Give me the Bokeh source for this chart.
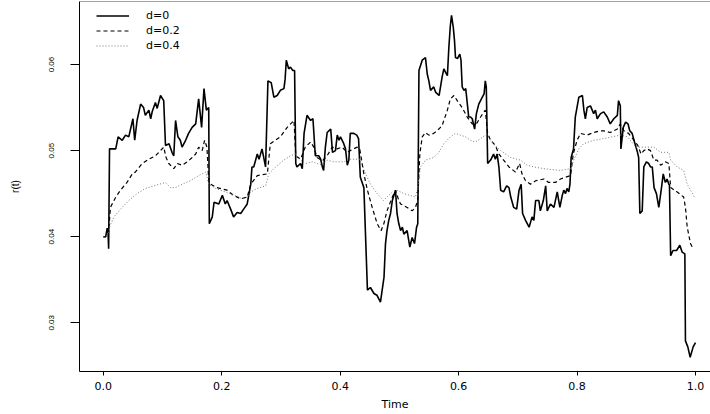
from bokeh.plotting import figure
from bokeh.models import Range1d, FixedTicker, NumeralTickFormatter, Span, Legend, LegendItem
from bokeh.embed import file_html
from bokeh.resources import INLINE

# Short-rate path r(t) for three values of the memory parameter d

# d = 0
t0 = [0.000, 0.004, 0.0066, 0.008, 0.009, 0.0105, 0.021, 0.025, 0.032, 0.0375,
      0.043, 0.050, 0.053, 0.057, 0.063, 0.068, 0.071, 0.077, 0.080, 0.0825,
      0.088, 0.091, 0.0966, 0.102, 0.105, 0.111, 0.116, 0.119, 0.122, 0.126,
      0.130, 0.133, 0.139, 0.144, 0.150, 0.156, 0.161, 0.166, 0.170, 0.174,
      0.178, 0.179, 0.184, 0.187, 0.195, 0.201, 0.206, 0.209, 0.215, 0.220,
      0.226, 0.232, 0.237, 0.243, 0.249, 0.251, 0.254, 0.260, 0.263, 0.268,
      0.274, 0.278, 0.2835, 0.288, 0.2936, 0.299, 0.305, 0.307, 0.309, 0.313,
      0.316, 0.320, 0.323, 0.325, 0.327, 0.333, 0.336, 0.339, 0.344, 0.350,
      0.354, 0.358, 0.364, 0.367, 0.370, 0.372, 0.375, 0.378, 0.384, 0.387,
      0.392, 0.395, 0.398, 0.4005, 0.406, 0.409, 0.412, 0.4146, 0.417, 0.423,
      0.428, 0.431, 0.434, 0.440, 0.446, 0.451, 0.457, 0.462, 0.468, 0.474,
      0.4765, 0.479, 0.482, 0.485, 0.488, 0.4934, 0.496, 0.499, 0.502, 0.505,
      0.5075, 0.513, 0.5176, 0.5215, 0.5255, 0.529, 0.531, 0.533, 0.5385, 0.544,
      0.547, 0.5497, 0.5525, 0.558, 0.561, 0.567, 0.572, 0.575, 0.578, 0.581,
      0.5835, 0.586, 0.588, 0.591, 0.593, 0.5947, 0.598, 0.602, 0.604, 0.606,
      0.609, 0.612, 0.617, 0.620, 0.623, 0.627, 0.630, 0.634, 0.640, 0.643,
      0.645, 0.6467, 0.649, 0.654, 0.659, 0.662, 0.665, 0.668, 0.671, 0.676,
      0.681, 0.685, 0.688, 0.693, 0.698, 0.702, 0.7056, 0.708, 0.713, 0.719,
      0.724, 0.727, 0.730, 0.7355, 0.738, 0.743, 0.747, 0.7496, 0.755, 0.761,
      0.7665, 0.771, 0.775, 0.7776, 0.7805, 0.783, 0.786, 0.788, 0.790, 0.794,
      0.797, 0.803, 0.809, 0.8115, 0.814, 0.817, 0.8226, 0.828, 0.831, 0.834,
      0.8396, 0.845, 0.851, 0.856, 0.862, 0.868, 0.870, 0.873, 0.874, 0.878,
      0.882, 0.886, 0.889, 0.893, 0.897, 0.902, 0.904, 0.906, 0.910, 0.9127,
      0.917, 0.921, 0.924, 0.927, 0.930, 0.934, 0.938, 0.942, 0.9455, 0.949,
      0.952, 0.955, 0.956, 0.958, 0.962, 0.968, 0.9735, 0.9775, 0.982, 0.983,
      0.987, 0.991, 0.996, 1.000]
r0 = [0.0400, 0.0400, 0.0410, 0.0405, 0.0386, 0.0502, 0.0502, 0.0516, 0.0512, 0.0518,
      0.0516, 0.0537, 0.0512, 0.0535, 0.0554, 0.0550, 0.0541, 0.0547, 0.0537, 0.0545,
      0.0556, 0.0549, 0.0564, 0.0558, 0.0506, 0.0508, 0.0498, 0.0494, 0.0535, 0.0516,
      0.0512, 0.0504, 0.0512, 0.0520, 0.0527, 0.0531, 0.0560, 0.0527, 0.0572, 0.0547,
      0.0550, 0.0415, 0.0423, 0.0440, 0.0438, 0.0448, 0.0438, 0.0442, 0.0432, 0.0423,
      0.0428, 0.0427, 0.0432, 0.0438, 0.0461, 0.0481, 0.0481, 0.0496, 0.0490, 0.0502,
      0.0481, 0.0581, 0.0579, 0.0562, 0.0564, 0.0570, 0.0572, 0.0583, 0.0605, 0.0595,
      0.0597, 0.0593, 0.0593, 0.0485, 0.0481, 0.0485, 0.0479, 0.0520, 0.0541, 0.0535,
      0.0537, 0.0494, 0.0494, 0.0490, 0.0481, 0.0477, 0.0504, 0.0521, 0.0525, 0.0498,
      0.0500, 0.0518, 0.0512, 0.0516, 0.0508, 0.0502, 0.0483, 0.0489, 0.0520, 0.0520,
      0.0518, 0.0514, 0.0469, 0.0457, 0.0338, 0.0341, 0.0334, 0.0332, 0.0324, 0.0353,
      0.0392, 0.0407, 0.0419, 0.0427, 0.0442, 0.0454, 0.0427, 0.0415, 0.0407, 0.0411,
      0.0403, 0.0407, 0.0388, 0.0399, 0.0392, 0.0411, 0.0415, 0.0593, 0.0605, 0.0608,
      0.0589, 0.0581, 0.0570, 0.0574, 0.0568, 0.0564, 0.0585, 0.0595, 0.0591, 0.0587,
      0.0620, 0.0645, 0.0657, 0.0643, 0.0628, 0.0608, 0.0607, 0.0612, 0.0605, 0.0574,
      0.0570, 0.0572, 0.0539, 0.0539, 0.0537, 0.0525, 0.0543, 0.0554, 0.0562, 0.0566,
      0.0581, 0.0574, 0.0485, 0.0489, 0.0496, 0.0490, 0.0496, 0.0481, 0.0454, 0.0452,
      0.0459, 0.0457, 0.0446, 0.0434, 0.0432, 0.0454, 0.0461, 0.0427, 0.0419, 0.0411,
      0.0423, 0.0419, 0.0442, 0.0442, 0.0430, 0.0442, 0.0459, 0.0430, 0.0438, 0.0434,
      0.0452, 0.0434, 0.0448, 0.0454, 0.0450, 0.0456, 0.0452, 0.0461, 0.0492, 0.0502,
      0.0539, 0.0562, 0.0564, 0.0547, 0.0537, 0.0550, 0.0552, 0.0543, 0.0547, 0.0537,
      0.0543, 0.0545, 0.0539, 0.0531, 0.0537, 0.0541, 0.0558, 0.0552, 0.0502, 0.0527,
      0.0533, 0.0531, 0.0523, 0.0520, 0.0510, 0.0498, 0.0492, 0.0427, 0.0430, 0.0481,
      0.0487, 0.0485, 0.0481, 0.0481, 0.0457, 0.0450, 0.0434, 0.0454, 0.0473, 0.0463,
      0.0467, 0.0461, 0.0460, 0.0378, 0.0384, 0.0384, 0.0390, 0.0382, 0.0380, 0.0279,
      0.0272, 0.0260, 0.0272, 0.0277]

# d = 0.2
t2 = [0.000, 0.004, 0.0066, 0.009, 0.0105, 0.012, 0.021, 0.029, 0.040, 0.049,
      0.054, 0.0657, 0.077, 0.088, 0.0966, 0.102, 0.106, 0.1106, 0.119, 0.125,
      0.133, 0.142, 0.150, 0.156, 0.161, 0.167, 0.171, 0.175, 0.178, 0.181,
      0.192, 0.209, 0.220, 0.232, 0.243, 0.249, 0.260, 0.277, 0.282, 0.299,
      0.3105, 0.322, 0.325, 0.333, 0.341, 0.350, 0.3555, 0.361, 0.370, 0.378,
      0.3865, 0.395, 0.403, 0.412, 0.417, 0.4287, 0.433, 0.440, 0.446, 0.454,
      0.4625, 0.469, 0.4737, 0.479, 0.488, 0.4934, 0.499, 0.502, 0.513, 0.5216,
      0.527, 0.531, 0.5345, 0.5385, 0.544, 0.5497, 0.558, 0.5666, 0.572, 0.581,
      0.586, 0.592, 0.5976, 0.606, 0.6145, 0.623, 0.630, 0.637, 0.645, 0.649,
      0.654, 0.662, 0.668, 0.676, 0.685, 0.696, 0.703, 0.707, 0.713, 0.7214,
      0.730, 0.744, 0.752, 0.7636, 0.772, 0.780, 0.789, 0.7935, 0.800, 0.806,
      0.817, 0.828, 0.8396, 0.845, 0.856, 0.868, 0.873, 0.879, 0.887, 0.896,
      0.9026, 0.908, 0.9127, 0.918, 0.924, 0.9296, 0.935, 0.941, 0.949, 0.955,
      0.958, 0.969, 0.980, 0.983, 0.986, 0.9915, 0.996]
r2 = [0.0400, 0.0400, 0.0406, 0.0405, 0.0420, 0.0434, 0.0446, 0.0454, 0.0463, 0.0473,
      0.0475, 0.0485, 0.0490, 0.0494, 0.0500, 0.0504, 0.0492, 0.0485, 0.0479, 0.0485,
      0.0483, 0.0487, 0.0492, 0.0496, 0.0504, 0.0500, 0.0512, 0.0504, 0.0465, 0.0461,
      0.0457, 0.0454, 0.0448, 0.0444, 0.0446, 0.0461, 0.0471, 0.0473, 0.0508, 0.0516,
      0.0527, 0.0535, 0.0494, 0.0490, 0.0504, 0.0510, 0.0504, 0.0492, 0.0488, 0.0494,
      0.0504, 0.0502, 0.0504, 0.0498, 0.0500, 0.0504, 0.0502, 0.0473, 0.0454, 0.0434,
      0.0415, 0.0407, 0.0415, 0.0430, 0.0446, 0.0454, 0.0442, 0.0438, 0.0434, 0.0430,
      0.0434, 0.0442, 0.0496, 0.0516, 0.0521, 0.0518, 0.0520, 0.0525, 0.0529, 0.0547,
      0.0560, 0.0564, 0.0558, 0.0550, 0.0539, 0.0531, 0.0531, 0.0539, 0.0547, 0.0520,
      0.0512, 0.0506, 0.0496, 0.0489, 0.0481, 0.0475, 0.0485, 0.0473, 0.0465, 0.0461,
      0.0465, 0.0467, 0.0463, 0.0463, 0.0467, 0.0469, 0.0471, 0.0496, 0.0512, 0.0520,
      0.0518, 0.0521, 0.0523, 0.0523, 0.0521, 0.0525, 0.0531, 0.0523, 0.0520, 0.0512,
      0.0506, 0.0496, 0.0500, 0.0502, 0.0500, 0.0489, 0.0489, 0.0483, 0.0487, 0.0485,
      0.0457, 0.0452, 0.0446, 0.0434, 0.0411, 0.0392, 0.0386]

# d = 0.4
t4 = [0.000, 0.004, 0.0066, 0.009, 0.0105, 0.018, 0.029, 0.043, 0.057, 0.071,
      0.085, 0.095, 0.105, 0.1135, 0.122, 0.133, 0.147, 0.161, 0.173, 0.178,
      0.1895, 0.206, 0.223, 0.2345, 0.243, 0.249, 0.260, 0.274, 0.2795, 0.291,
      0.305, 0.316, 0.3245, 0.333, 0.341, 0.353, 0.361, 0.370, 0.378, 0.389,
      0.406, 0.4175, 0.433, 0.443, 0.451, 0.4625, 0.473, 0.479, 0.488, 0.496,
      0.5075, 0.518, 0.527, 0.531, 0.5357, 0.544, 0.558, 0.5666, 0.575, 0.586,
      0.5947, 0.603, 0.6116, 0.620, 0.6285, 0.637, 0.645, 0.649, 0.659, 0.671,
      0.6876, 0.7045, 0.716, 0.727, 0.744, 0.771, 0.789, 0.7945, 0.803, 0.811,
      0.828, 0.845, 0.859, 0.873, 0.885, 0.890, 0.899, 0.907, 0.918, 0.9296,
      0.941, 0.955, 0.958, 0.969, 0.980, 0.986, 0.998]
r4 = [0.0400, 0.0400, 0.0404, 0.0403, 0.0411, 0.0423, 0.0432, 0.0442, 0.0450, 0.0456,
      0.0459, 0.0461, 0.0463, 0.0457, 0.0457, 0.0461, 0.0465, 0.0471, 0.0475, 0.0461,
      0.0456, 0.0452, 0.0448, 0.0444, 0.0446, 0.0452, 0.0456, 0.0459, 0.0473, 0.0481,
      0.0489, 0.0494, 0.0496, 0.0489, 0.0485, 0.0487, 0.0485, 0.0483, 0.0489, 0.0487,
      0.0487, 0.0490, 0.0490, 0.0473, 0.0461, 0.0450, 0.0442, 0.0446, 0.0452, 0.0454,
      0.0450, 0.0448, 0.0446, 0.0457, 0.0481, 0.0489, 0.0492, 0.0498, 0.0508, 0.0516,
      0.0520, 0.0518, 0.0516, 0.0512, 0.0510, 0.0514, 0.0518, 0.0516, 0.0508, 0.0500,
      0.0492, 0.0489, 0.0483, 0.0481, 0.0479, 0.0477, 0.0479, 0.0489, 0.0502, 0.0508,
      0.0512, 0.0514, 0.0516, 0.0518, 0.0516, 0.0512, 0.0504, 0.0504, 0.0504, 0.0504,
      0.0498, 0.0498, 0.0489, 0.0481, 0.0477, 0.0461, 0.0446]

assert len(t0) == len(r0) and len(t2) == len(r2) and len(t4) == len(r4)

x_ticks = [0.0, 0.2, 0.4, 0.6, 0.8, 1.0]
y_ticks = [0.03, 0.04, 0.05, 0.06]
labels = ["d=0", "d=0.2", "d=0.4"]

X_LO, X_HI = -0.0402, 1.0253
Y_LO, Y_HI = 0.02434, 0.06732

p = figure(width=710, height=414, output_backend="svg", toolbar_location=None,
           x_range=Range1d(X_LO, X_HI), y_range=Range1d(Y_LO, Y_HI),
           min_border_left=79, min_border_right=0, min_border_top=1,
           min_border_bottom=43)
p.outline_line_color = None
p.background_fill_color = "white"
p.border_fill_color = "white"
p.xgrid.visible = False
p.ygrid.visible = False

# frame top edge
p.add_layout(Span(location=Y_HI, dimension="width", line_color="#444444", line_width=1))

l0 = p.line(t0, r0, line_color="black", line_width=1.6)
l2 = p.line(t2, r2, line_color="black", line_width=1.2, line_dash="4 3")
l4 = p.line(t4, r4, line_color="#777777", line_width=1.0, line_dash="1 2")

tick_font = "DejaVu Sans"
side_font = "Liberation Sans"

xa = p.xaxis[0]
xa.ticker = FixedTicker(ticks=x_ticks)
xa.formatter = NumeralTickFormatter(format="0.0")
xa.minor_tick_line_color = None
xa.major_tick_in = 0
xa.major_tick_out = 4
xa.major_label_standoff = 6
xa.major_label_text_font = tick_font
xa.major_label_text_font_size = "11px"
xa.major_label_text_color = "black"
xa.axis_line_color = "black"
xa.major_tick_line_color = "black"
xa.axis_label = "Time"
xa.axis_label_text_font = tick_font
xa.axis_label_text_font_size = "11px"
xa.axis_label_text_font_style = "normal"
xa.axis_label_text_color = "black"
xa.axis_label_standoff = 5

ya = p.yaxis[0]
ya.ticker = FixedTicker(ticks=y_ticks)
ya.formatter = NumeralTickFormatter(format="0.00")
ya.minor_tick_line_color = None
ya.major_tick_in = 0
ya.major_tick_out = 9
ya.major_label_orientation = "vertical"
ya.major_label_standoff = 16
ya.major_label_text_font = side_font
ya.major_label_text_font_size = "8px"
ya.major_label_text_color = "black"
ya.axis_line_color = "black"
ya.major_tick_line_color = "black"
ya.axis_label = "r(t)"
ya.axis_label_text_font = side_font
ya.axis_label_text_font_size = "10px"
ya.axis_label_text_font_style = "normal"
ya.axis_label_text_color = "black"
ya.axis_label_standoff = 26

legend = Legend(items=[LegendItem(label=labels[0], renderers=[l0]),
                       LegendItem(label=labels[1], renderers=[l2]),
                       LegendItem(label=labels[2], renderers=[l4])],
                location=(17, 318), padding=0, margin=0, spacing=0,
                glyph_width=33, glyph_height=15, label_height=15,
                label_standoff=17, label_text_font=tick_font,
                label_text_font_size="11px", label_text_color="black",
                border_line_color=None, background_fill_alpha=0)
p.add_layout(legend)

open("out.html", "w").write(file_html(p, INLINE))
